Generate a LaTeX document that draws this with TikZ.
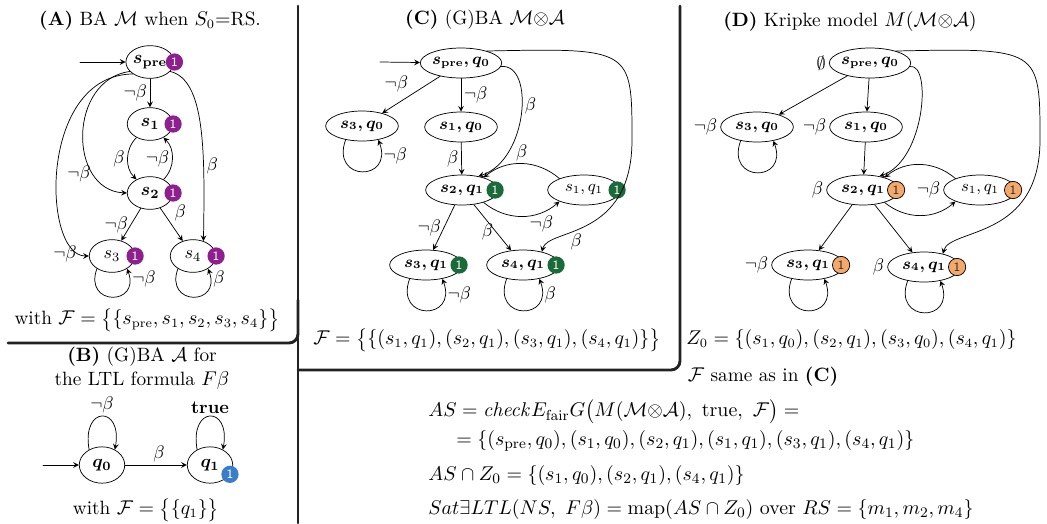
\documentclass[tikz,border=0pt]{standalone}
\usepackage{amsmath,amssymb}
\usetikzlibrary{shapes.geometric,positioning}
\definecolor{purp}{HTML}{8E1F8E}
\definecolor{dgreen}{HTML}{1B6B3A}
\definecolor{lblue}{HTML}{3B7DC8}
\definecolor{lorange}{HTML}{F4A96A}
\definecolor{framec}{HTML}{222222}
\tikzset{
  st/.style={draw,ellipse,inner sep=0pt,minimum width=25pt,minimum height=18pt,font=\normalsize\boldmath},
  stn/.style={st,font=\normalsize\unboldmath},
  bst/.style={st,minimum height=20pt},
  pst/.style={draw,ellipse,inner sep=0pt,minimum width=40pt,minimum height=16.5pt,font=\small\boldmath},
  pstn/.style={pst,font=\small\unboldmath},
  badge/.style={circle,fill=#1,text=white,inner sep=0pt,minimum size=9.5pt,font=\sffamily\scriptsize},
  obadge/.style={circle,fill=lorange,draw=black,line width=0.4pt,text=black!80,inner sep=0pt,minimum size=9.5pt,font=\sffamily\scriptsize},
  el/.style={font=\normalsize,inner sep=1.5pt},
  res/.style={anchor=west,inner sep=0pt,font=\fontsize{11}{13}\selectfont},
  frame/.style={draw=framec,line width=1.6pt}
}
\begin{document}
\begin{tikzpicture}[>=stealth,x=0.55pt,y=0.55pt,line cap=round,line join=round,font=\fontsize{10.6}{13}\selectfont]
\useasboundingbox (0,0) rectangle (1047,-523);
% frames
\draw[frame] (298,-6) -- (298,-523);
\draw[frame,rounded corners=5] (8,-343) -- (298,-343) -- (298,-300);
\draw[frame,rounded corners=5] (298,-370) -- (680,-370) -- (680,-6);

% (A)
\node (tA) at (150,-21) {\textbf{(A)} BA $\mathcal{M}$ when $S_0{=}$RS.};
\node[st] (pre) at (150,-62) {$s_{\mathrm{pre}}$};
\node[st] (s1) at (150,-124) {$s_1$};
\node[st] (s2) at (150,-193) {$s_2$};
\node[stn] (s3) at (112,-256) {$s_3$};
\node[stn] (s4) at (193,-256) {$s_4$};
\foreach \n in {pre,s1,s2,s3,s4}
  \node[badge=purp] (b\n) at (\n.east) {1};
\coordinate (ia) at (80,-62);
\draw[->] (ia) -- (pre);
\draw[->] (pre) -- node[el,left]{$\neg\beta$} (s1);
\draw[->] (s1) to[bend right=45] node[el,left]{$\beta$} (s2);
\draw[->] (s2) to[bend right=45] node[el,left]{$\neg\beta$} (s1);
\draw[->] (pre.205) .. controls (68,-80) and (68,-190) .. node[el,pos=.75,left]{$\neg\beta$} (s2.west);
\draw[->] (pre.215) .. controls (38,-75) and (42,-256) .. node[el,pos=.93,left]{$\neg\beta$} (s3.west);
\draw[->] (pre.-25) .. controls (205,-80) and (205,-150) .. node[el,pos=.7,right]{$\beta$} (s4.55);
\draw[->] (s2) -- node[el,left]{$\neg\beta$} (s3);
\draw[->] (s2) -- node[el,above right]{$\beta$} (s4);
\draw[->] (s3.-140) .. controls +(-110:40) and +(-70:40) .. node[el,pos=.9,right]{$\neg\beta$} (s3.-40);
\draw[->] (s4.-140) .. controls +(-110:40) and +(-70:40) .. node[el,pos=.9,right]{$\beta$} (s4.-40);
\node (ftA) at (147,-320) {with $\mathcal{F}=\big\{\{s_{\mathrm{pre}},s_1,s_2,s_3,s_4\}\big\}$};

% (B)
\node[align=center] (tB) at (142,-368) {\textbf{(B)} (G)BA $\mathcal{A}$ for\\the LTL formula $F\beta$};
\node[bst] (q0) at (102,-465) {$q_0$};
\node[bst] (q1) at (210,-465) {$q_1$};
\node[badge=lblue] (bq1) at (q1.-25) {1};
\coordinate (iq) at (43,-465);
\draw[->] (iq) -- (q0);
\draw[->] (q0) -- node[el,above,pos=.55]{$\beta$} (q1);
\draw[->] (q0.130) .. controls +(100:45) and +(80:45) .. node[el,above]{$\neg\beta$} (q0.50);
\draw[->] (q1.130) .. controls +(100:45) and +(80:45) .. node[el,above]{$\mathbf{true}$} (q1.50);
\node (ftB) at (146,-510) {with $\mathcal{F}=\big\{\{q_1\}\big\}$};

% (C)
\node (tC) at (485,-20) {\textbf{(C)} (G)BA $\mathcal{M}{\otimes}\mathcal{A}$};
\node[pst] (cpre) at (461,-63) {$s_{\mathrm{pre}},q_0$};
\node[pst] (cs3q0) at (362,-126) {$s_3,q_0$};
\node[pst] (cs1q0) at (461,-127) {$s_1,q_0$};
\node[pst] (cs2q1) at (462,-190) {$s_2,q_1$};
\node[pstn] (cs1q1) at (584,-190) {$s_1,q_1$};
\node[pst] (cs3q1) at (426,-265) {$s_3,q_1$};
\node[pst] (cs4q1) at (523,-265) {$s_4,q_1$};
\foreach \n in {cs2q1,cs1q1,cs3q1,cs4q1}
  \node[badge=dgreen] (b\n) at ([xshift=-2pt]\n.east) {1};
\coordinate (ic) at (380,-62);
\draw[->] (ic) -- (cpre);
\draw[->] (cpre) -- node[el,above left]{$\neg\beta$} (cs3q0);
\draw[->] (cpre) -- node[el,right]{$\neg\beta$} (cs1q0);
\draw[->] (cpre.-5) .. controls (535,-63) and (528,-160) .. node[el,pos=.45,right]{$\beta$} (cs2q1.40);
\draw[->] (cpre.25) .. controls (632,-48) .. (632,-140) .. controls (632,-240) and (548,-228) .. node[el,pos=.6,below]{$\beta$} (cs4q1.35);
\draw[->] (cs1q0) -- node[el,left]{$\beta$} (cs2q1);
\draw[->] (cs1q1.155) to[bend right=40] node[el,above]{$\beta$} (cs2q1.30);
\draw[->] (cs2q1.-30) to[bend right=40] node[el,pos=.75,below]{$\neg\beta$} (cs1q1.-155);
\draw[->] (cs2q1) -- node[el,left]{$\neg\beta$} (cs3q1);
\draw[->] (cs2q1) -- node[el,left,pos=.6]{$\beta$} (cs4q1);
\draw[->] (cs3q0.-140) .. controls +(-110:45) and +(-70:45) .. node[el,pos=.85,right]{$\neg\beta$} (cs3q0.-40);
\draw[->] (cs3q1.-140) .. controls +(-110:45) and +(-70:45) .. node[el,pos=.85,right]{$\neg\beta$} (cs3q1.-40);
\draw[->] (cs4q1.-140) .. controls +(-110:45) and +(-70:45) .. node[el,pos=.85,right]{$\beta$} (cs4q1.-40);
\node (ftC) at (487,-340) {$\mathcal{F}=\big\{\{(s_1,q_1),(s_2,q_1),(s_3,q_1),(s_4,q_1)\}\big\}$};

% (D)
\node (tD) at (850,-22) {\textbf{(D)} Kripke model $M(\mathcal{M}{\otimes}\mathcal{A})$};
\node[pst] (dpre) at (870,-63) {$s_{\mathrm{pre}},q_0$};
\node[pst] (ds3q0) at (757,-127) {$s_3,q_0$};
\node[pst] (ds1q0) at (866,-127) {$s_1,q_0$};
\node[pst] (ds2q1) at (863,-190) {$s_2,q_1$};
\node[pstn] (ds1q1) at (980,-190) {$s_1,q_1$};
\node[pst] (ds3q1) at (808,-265) {$s_3,q_1$};
\node[pst] (ds4q1) at (924,-267) {$s_4,q_1$};
\foreach \n in {ds2q1,ds1q1,ds3q1,ds4q1}
  \node[obadge] (b\n) at ([xshift=-2pt]\n.east) {1};
\foreach \n/\t in {dpre/\emptyset,ds3q0/\neg\beta,ds1q0/\neg\beta,ds2q1/\beta,ds1q1/\neg\beta,ds3q1/\neg\beta,ds4q1/\beta}
  \node[el,left=0pt of \n] (l\n) {$\t$};
\draw[->] (dpre) -- (ds3q0);
\draw[->] (dpre) -- (ds1q0);
\draw[->] (dpre.-5) .. controls (932,-63) and (925,-160) .. (ds2q1.40);
\draw[->] (dpre.25) .. controls (1040,-48) .. (1040,-140) .. controls (1040,-240) and (950,-228) .. (ds4q1.35);
\draw[->] (ds1q0) -- (ds2q1);
\draw[->] (ds1q1.155) to[bend right=40] (ds2q1.30);
\draw[->] (ds2q1.-30) to[bend right=40] (ds1q1.-155);
\draw[->] (ds2q1) -- (ds3q1);
\draw[->] (ds2q1) -- (ds4q1);
\draw[->] (ds3q0.-140) .. controls +(-110:45) and +(-70:45) .. (ds3q0.-40);
\draw[->] (ds3q1.-140) .. controls +(-110:45) and +(-70:45) .. (ds3q1.-40);
\draw[->] (ds4q1.-140) .. controls +(-110:45) and +(-70:45) .. (ds4q1.-40);
\node[anchor=west,inner sep=0pt] (z0) at (686,-340) {$Z_0=\{(s_1,q_0),(s_2,q_1),(s_3,q_0),(s_4,q_1)\}$};

% result
\node[inner sep=0pt] (fsame) at (763,-377) {$\mathcal{F}$ same as in \textbf{(C)}};
\node[res] (as1) at (428,-412) {$AS=\mathit{check}E_{\mathrm{fair}}G\big(M(\mathcal{M}{\otimes}\mathcal{A}),\ \mathrm{true},\ \mathcal{F}\big)=$};
\node[res] (as2) at (456,-441) {$=\{(s_{\mathrm{pre}},q_0),(s_1,q_0),(s_2,q_1),(s_1,q_1),(s_3,q_1),(s_4,q_1)\}$};
\node[res] (asz) at (428,-476) {$AS\cap Z_0=\{(s_1,q_0),(s_2,q_1),(s_4,q_1)\}$};
\node[res] (sat) at (428,-510) {$Sat\exists LTL(NS,\ F\beta)=\mathrm{map}(AS\cap Z_0)\ \mathrm{over}\ RS=\{m_1,m_2,m_4\}$};
\end{tikzpicture}
\end{document}
